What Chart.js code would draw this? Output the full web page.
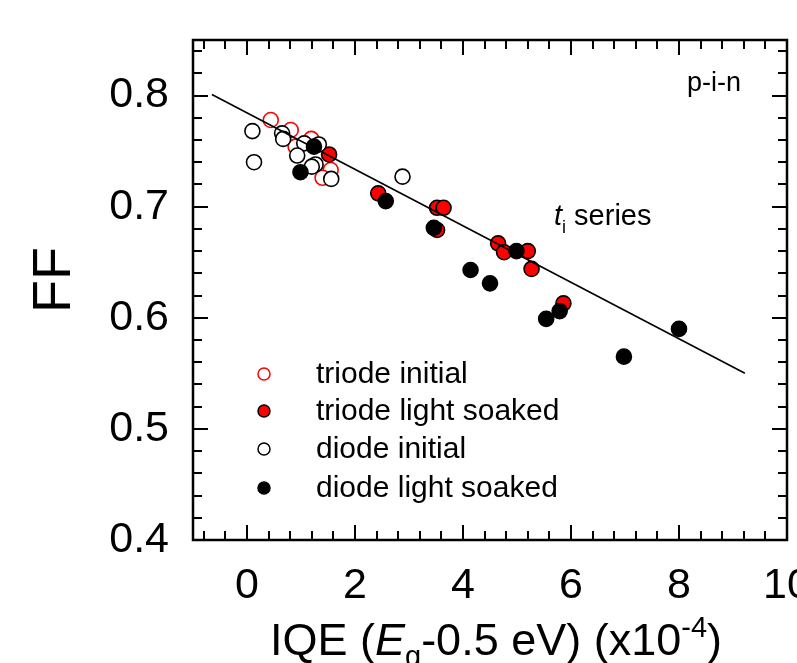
<!DOCTYPE html>
<html>
<head>
<meta charset="utf-8">
<script src="https://cdn.jsdelivr.net/npm/chart.js@4.4.1/dist/chart.umd.min.js"></script>
<style>
  html, body { margin: 0; padding: 0; background: #fff; }
  #wrap { width: 797px; height: 663px; }
</style>
</head>
<body>
<div id="wrap"><canvas id="my-chart"></canvas></div>
<script>
// FF vs IQE, p-i-n cells (ti series)
const triodeInitialX = [0.44, 0.81, 1.19, 0.90, 1.55, 1.40]
const triodeInitialY = [0.778, 0.769, 0.761, 0.754, 0.733, 0.726]

const triodeSoakedX = [1.52, 2.43, 3.52, 3.64, 3.52, 4.65, 4.76, 5.20, 5.27, 5.86]
const triodeSoakedY = [0.747, 0.712, 0.699, 0.699, 0.679, 0.667, 0.659, 0.660, 0.644, 0.613]

const diodeInitialX = [0.10, 0.13, 0.65, 0.67, 1.06, 1.33, 0.93, 1.27, 1.20, 1.56, 2.88]
const diodeInitialY = [0.768, 0.740, 0.766, 0.761, 0.757, 0.756, 0.746, 0.738, 0.736, 0.725, 0.727]

const diodeSoakedX = [1.24, 0.99, 2.57, 3.46, 4.99, 4.14, 4.50, 5.54, 5.79, 6.98, 8.00]
const diodeSoakedY = [0.754, 0.731, 0.705, 0.681, 0.660, 0.643, 0.631, 0.599, 0.606, 0.565, 0.590]

// linear fit drawn across the data
const fitX = [-0.65, 9.22]
const fitY = [0.801, 0.550]

const xTicks = [0, 2, 4, 6, 8, 10]
const yTicks = [0.4, 0.5, 0.6, 0.7, 0.8]
const xMinorStep = 0.4
const yMinorStep = 0.02

const FONT = '"Liberation Sans", Arial, Helvetica, sans-serif'

function toPoints(xs, ys) {
    return xs.map((x, i) => ({ x: x, y: ys[i] }))
}

// frame, inward ticks, legend, labels
const decorations = {
    id: 'decorations',
    afterDraw(chart) {
        const c = chart.ctx
        const a = chart.chartArea
        const xs = chart.scales.x
        const ys = chart.scales.y
        c.save()
        c.strokeStyle = '#000'
        c.lineWidth = 2

        // minor + major ticks on all four sides
        c.beginPath()
        for (let v = -0.8; v < 10; v += xMinorStep) {
            const px = Math.round(xs.getPixelForValue(v))
            const major = xTicks.some((t) => Math.abs(t - v) < 1e-6)
            const len = major ? 15 : 9
            c.moveTo(px, a.bottom); c.lineTo(px, a.bottom - len)
            c.moveTo(px, a.top); c.lineTo(px, a.top + len)
        }
        for (let v = 0.4; v < 0.85; v += yMinorStep) {
            const py = Math.round(ys.getPixelForValue(v))
            const major = yTicks.some((t) => Math.abs(t - v) < 1e-6)
            const len = major ? 15 : 9
            c.moveTo(a.left, py); c.lineTo(a.left + len, py)
            c.moveTo(a.right, py); c.lineTo(a.right - len, py)
        }
        c.stroke()

        c.lineWidth = 2.5
        c.strokeRect(a.left, a.top, a.right - a.left, a.bottom - a.top)

        // legend
        const legendY = [374, 411, 449, 488]
        c.font = '30px ' + FONT
        c.textBaseline = 'middle'
        c.textAlign = 'left'
        chart.data.datasets.slice(0, 4).forEach((ds, i) => {
            c.beginPath()
            c.arc(264, legendY[i], 6, 0, Math.PI * 2)
            c.fillStyle = ds.backgroundColor
            c.fill()
            c.lineWidth = 1.5
            c.strokeStyle = ds.borderColor
            c.stroke()
            c.fillStyle = '#000'
            c.fillText(ds.label, 316, legendY[i] + 1)
        })

        // annotations
        c.font = '27px ' + FONT
        c.fillText('p-i-n', 687, 84)
        c.font = 'italic 29px ' + FONT
        c.fillText('t', 554, 217)
        let w = c.measureText('t').width
        c.font = '18px ' + FONT
        c.fillText('i', 554 + w, 228)
        c.font = '29px ' + FONT
        c.fillText(' series', 554 + w + 4, 217)

        // y title
        c.save()
        c.translate(55, 280)
        c.rotate(-Math.PI / 2)
        c.textAlign = 'center'
        c.font = '54px ' + FONT
        c.fillText('FF', 0, 0)
        c.restore()

        // x title with italic E, subscript g, superscript -4
        const parts = [
            { t: 'IQE (', f: '45px ' + FONT, dy: 0 },
            { t: 'E', f: 'italic 45px ' + FONT, dy: 0 },
            { t: 'g', f: '29px ' + FONT, dy: 11 },
            { t: '-0.5 eV) (x10', f: '45px ' + FONT, dy: 0 },
            { t: '-4', f: '29px ' + FONT, dy: -18 },
            { t: ')', f: '45px ' + FONT, dy: 0 }
        ]
        c.textBaseline = 'alphabetic'
        let total = 0
        parts.forEach((p) => { c.font = p.f; total += c.measureText(p.t).width })
        let x = 496 - total / 2
        parts.forEach((p) => {
            c.font = p.f
            c.fillText(p.t, x, 655 + p.dy)
            x += c.measureText(p.t).width
        })
        c.restore()
    }
}

const ctx = document.getElementById('my-chart')

new Chart(ctx, {
    type: 'scatter',
    data: {
        datasets: [
            {
                label: 'triode initial',
                data: toPoints(triodeInitialX, triodeInitialY),
                backgroundColor: '#ffffff',
                borderColor: '#ff0000',
                borderWidth: 1.6,
                pointRadius: 7.5,
                order: 4
            },
            {
                label: 'triode light soaked',
                data: toPoints(triodeSoakedX, triodeSoakedY),
                backgroundColor: '#ff0000',
                borderColor: '#000000',
                borderWidth: 1.6,
                pointRadius: 7.5,
                order: 3
            },
            {
                label: 'diode initial',
                data: toPoints(diodeInitialX, diodeInitialY),
                backgroundColor: '#ffffff',
                borderColor: '#000000',
                borderWidth: 1.6,
                pointRadius: 7.5,
                order: 2
            },
            {
                label: 'diode light soaked',
                data: toPoints(diodeSoakedX, diodeSoakedY),
                backgroundColor: '#000000',
                borderColor: '#000000',
                borderWidth: 1.6,
                pointRadius: 7.5,
                order: 1
            },
            {
                type: 'line',
                label: 'fit',
                data: toPoints(fitX, fitY),
                borderColor: '#000000',
                borderWidth: 1.6,
                pointRadius: 0,
                fill: false,
                order: 0
            }
        ]
    },
    options: {
        responsive: true,
        maintainAspectRatio: false,
        animation: false,
        layout: {
            padding: { left: 93, top: 40, right: 10, bottom: 58 }
        },
        plugins: {
            legend: { display: false },
            tooltip: { enabled: false }
        },
        scales: {
            x: {
                type: 'linear',
                min: -1,
                max: 10,
                grid: { display: false, drawTicks: false },
                border: { display: false },
                afterBuildTicks: (scale) => {
                    scale.ticks = xTicks.map((v) => ({ value: v }))
                },
                afterFit: (scale) => {
                    scale.height = 65
                    scale.paddingLeft = 0
                    scale.paddingRight = 0
                },
                ticks: {
                    color: '#000',
                    padding: 20,
                    maxRotation: 0,
                    autoSkip: false,
                    font: { family: FONT, size: 43 },
                    callback: (v) => String(v)
                }
            },
            y: {
                type: 'linear',
                min: 0.4,
                max: 0.85,
                grid: { display: false, drawTicks: false },
                border: { display: false },
                afterBuildTicks: (scale) => {
                    scale.ticks = yTicks.map((v) => ({ value: v }))
                },
                afterFit: (scale) => {
                    scale.width = 100
                    scale.paddingTop = 0
                    scale.paddingBottom = 0
                },
                ticks: {
                    color: '#000',
                    padding: 24,
                    autoSkip: false,
                    font: { family: FONT, size: 43 },
                    callback: (v) => v.toFixed(1)
                }
            }
        }
    },
    plugins: [decorations]
})
</script>
</body>
</html>
